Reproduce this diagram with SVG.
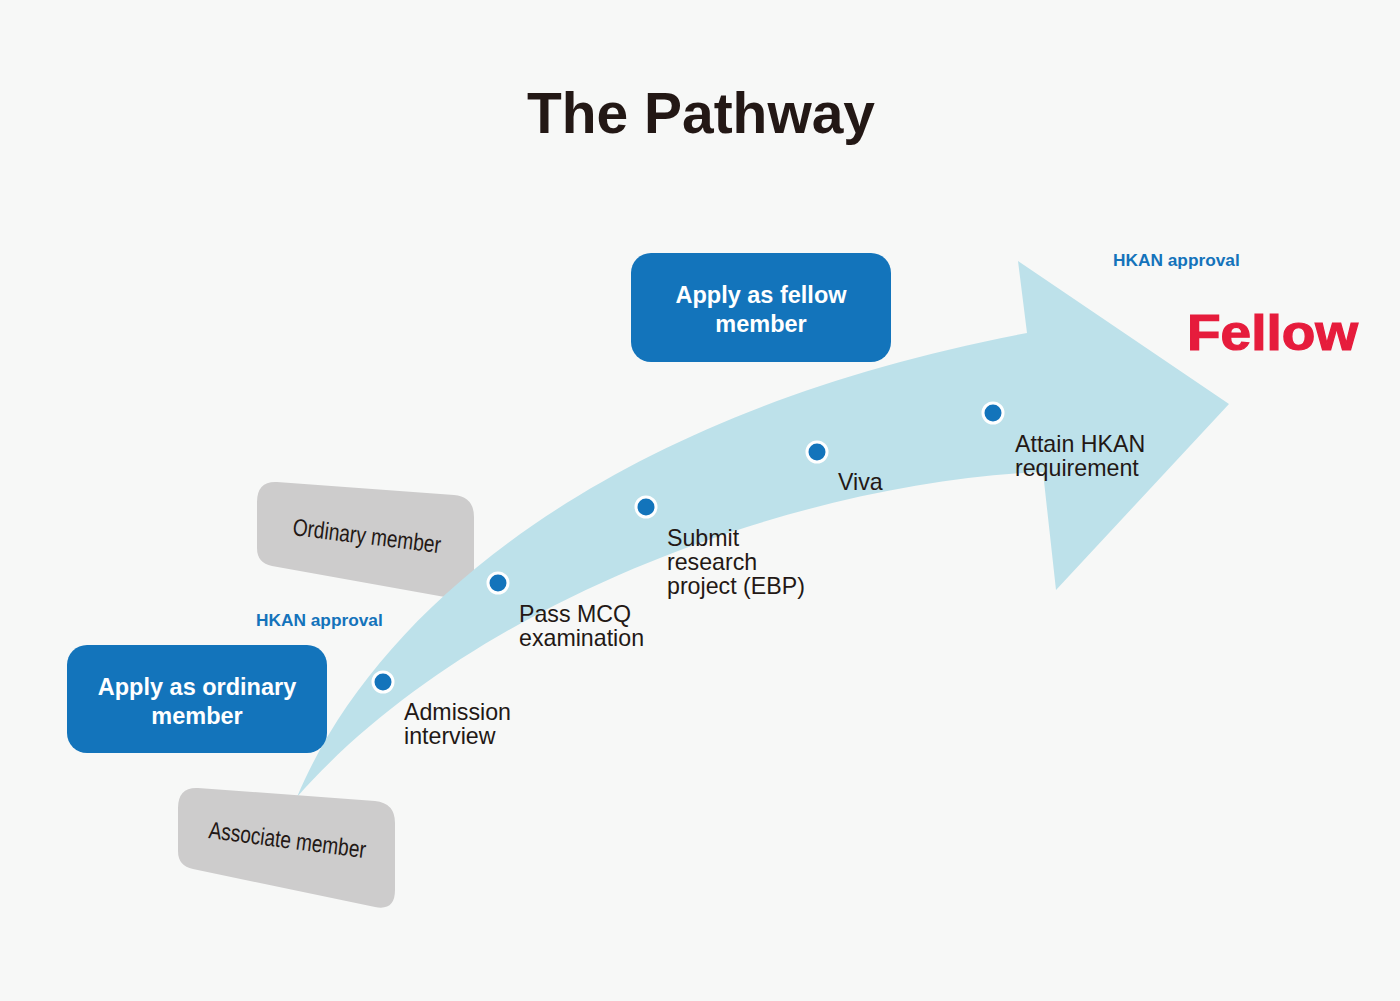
<svg xmlns="http://www.w3.org/2000/svg" width="1400" height="1001" viewBox="0 0 1400 1001">
<style>
.bg{fill:#f7f8f7}
.gray{fill:#cdcccc}
.gtext{font-family:"Liberation Sans",Arial,sans-serif;font-size:24px;fill:#231815}
.blue{fill:#1374bb}
.btext{font-family:"Liberation Sans",Arial,sans-serif;font-size:23.5px;font-weight:bold;fill:#ffffff;text-anchor:middle}
.step{font-family:"Liberation Sans",Arial,sans-serif;font-size:23.2px;fill:#231815}
.appr{font-family:"Liberation Sans",Arial,sans-serif;font-size:17.3px;font-weight:bold;fill:#1473bb}
.dot{fill:#1374bb;stroke:#ffffff;stroke-width:3}
.arrow{fill:#bde1ea}
</style>
<rect class="bg" x="0" y="0" width="1400" height="1001"/>
<text id="title" x="527" y="133" font-family="'Liberation Sans',Arial,sans-serif" font-size="58" font-weight="bold" fill="#231815" textLength="348" lengthAdjust="spacingAndGlyphs">The Pathway</text>

<g id="ordinary-member">
<path class="gray" d="M277,482 L454,495 Q474,497 474,517 L474,585 Q474,603 456,599 L272,566 Q257,563 257,548 L257,502 Q257,481 277,482 Z"/>
<text class="gtext" transform="translate(292,535) rotate(7)" x="0" y="0" textLength="149" lengthAdjust="spacingAndGlyphs">Ordinary member</text>
</g>

<g id="connectors">
<path id="pathway-arrow" class="arrow" d="M297,797 C380,600 620,410 1027,333 L1018,261 L1229,404 L1056,590 L1043,472 C820,480 480,590 297,797 Z"/>
</g>

<g id="associate-member">
<path class="gray" d="M198,788 L375,801 Q395,803 395,823 L395,890 Q395,911 375,907 L193,869 Q178,866 178,851 L178,808 Q178,787 198,788 Z"/>
<text class="gtext" transform="translate(208,838) rotate(7.3)" x="0" y="0" textLength="158" lengthAdjust="spacingAndGlyphs">Associate member</text>
</g>

<g id="apply-ordinary">
<rect class="blue" x="67" y="645" width="260" height="108" rx="20"/>
<text class="btext" x="197" y="695">Apply as ordinary</text>
<text class="btext" x="197" y="724">member</text>
</g>

<g id="apply-fellow">
<rect class="blue" x="631" y="253" width="260" height="109" rx="20"/>
<text class="btext" x="761" y="303">Apply as fellow</text>
<text class="btext" x="761" y="332">member</text>
</g>

<g id="approval-ordinary">
<text class="appr" x="256" y="626">HKAN approval</text>
</g>
<g id="approval-fellow">
<text class="appr" x="1113" y="266">HKAN approval</text>
</g>

<g id="fellow">
<text x="1187" y="350" font-family="'Liberation Sans',Arial,sans-serif" font-size="50" font-weight="bold" fill="#e61c3c" stroke="#e61c3c" stroke-width="1.2" textLength="171" lengthAdjust="spacingAndGlyphs">Fellow</text>
</g>

<g id="step-admission">
<circle class="dot" cx="383" cy="682" r="10"/>
<text class="step" x="404" y="720">Admission</text>
<text class="step" x="404" y="744">interview</text>
</g>
<g id="step-mcq">
<circle class="dot" cx="498" cy="583" r="10"/>
<text class="step" x="519" y="622">Pass MCQ</text>
<text class="step" x="519" y="646">examination</text>
</g>
<g id="step-ebp">
<circle class="dot" cx="646" cy="507" r="10"/>
<text class="step" x="667" y="546">Submit</text>
<text class="step" x="667" y="570">research</text>
<text class="step" x="667" y="594">project (EBP)</text>
</g>
<g id="step-viva">
<circle class="dot" cx="817" cy="452" r="10"/>
<text class="step" x="838" y="490">Viva</text>
</g>
<g id="step-attain">
<circle class="dot" cx="993" cy="413" r="10"/>
<text class="step" x="1015" y="452">Attain HKAN</text>
<text class="step" x="1015" y="476">requirement</text>
</g>
</svg>
